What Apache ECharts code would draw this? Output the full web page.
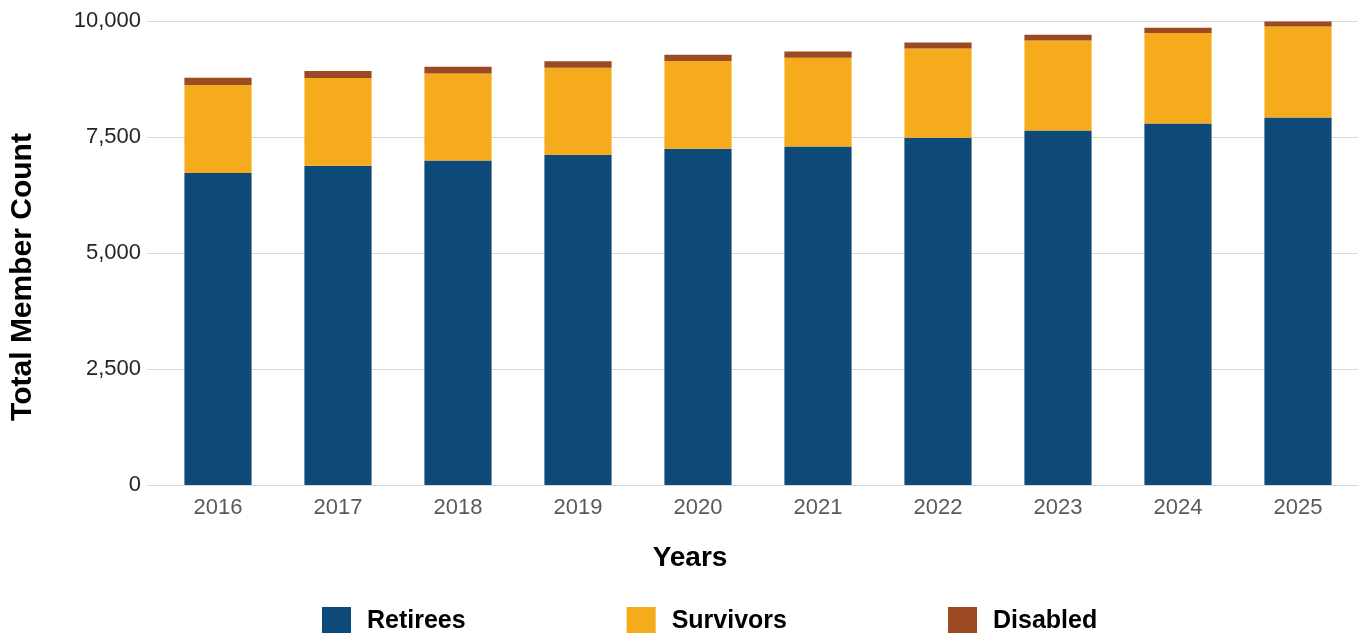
<!DOCTYPE html>
<html>
<head>
<meta charset="utf-8">
<script src="https://cdn.jsdelivr.net/npm/echarts@6/dist/echarts.min.js"></script>
<style>
  html, body { margin: 0; padding: 0; background: #fff; }
  #chart { width: 1364px; height: 633px; }
</style>
</head>
<body>
<div id="chart"></div>
<script>
const years = ["2016", "2017", "2018", "2019", "2020", "2021", "2022", "2023", "2024", "2025"];
const retirees = [6724, 6880, 6995, 7110, 7247, 7297, 7484, 7642, 7793, 7922];
const survivors = [1896, 1890, 1875, 1880, 1890, 1911, 1925, 1939, 1948, 1961];
const disabled = [157, 150, 145, 145, 136, 136, 129, 123, 114, 108];
const yTicks = [0, 2500, 5000, 7500, 10000];

const font = "'Liberation Sans', Arial, sans-serif";
const chart = echarts.init(document.getElementById("chart"));

const barSeries = (name, data, color) => ({
  name: name,
  type: "bar",
  stack: "total",
  data: data,
  barWidth: "56%",
  itemStyle: { color: color },
});

const option = {
  animation: false,
  textStyle: { fontFamily: font },
  grid: {
    left: 158,
    right: 6,
    top: 21,
    bottom: 148,
  },
  legend: {
    left: 317,
    top: 602,
    itemWidth: 29,
    itemHeight: 29,
    itemGap: 161,
    icon: "rect",
    textStyle: {
      fontSize: 25,
      fontWeight: "bold",
      color: "#000",
      fontFamily: font,
      padding: [0, 0, 0, 11],
    },
    data: ["Retirees", "Survivors", "Disabled"],
  },
  xAxis: {
    type: "category",
    data: years,
    axisLine: { lineStyle: { color: "#d9d9d9" } },
    axisTick: { show: false },
    axisLabel: { color: "#595959", fontSize: 22, margin: 12 },
  },
  yAxis: {
    type: "value",
    min: yTicks[0],
    max: yTicks[yTicks.length - 1],
    interval: 2500,
    axisLine: { show: false },
    axisTick: { show: true, length: 11, lineStyle: { color: "#d9d9d9" } },
    splitLine: { lineStyle: { color: "#d9d9d9" } },
    axisLabel: {
      color: "#262626",
      fontSize: 22,
      margin: 17,
      formatter: (v) => v.toLocaleString("en-US"),
    },
  },
  graphic: [
    {
      type: "text",
      x: 690,
      y: 558,
      style: {
        text: "Years",
        font: "bold 28px " + font,
        fill: "#000",
        align: "center",
        verticalAlign: "middle",
      },
    },
    {
      type: "text",
      x: 23,
      y: 277,
      rotation: Math.PI / 2,
      style: {
        text: "Total Member Count",
        font: "bold 30px " + font,
        fill: "#000",
        align: "center",
        verticalAlign: "middle",
      },
    },
  ],
  series: [
    barSeries("Retirees", retirees, "#0d4a7a"),
    barSeries("Survivors", survivors, "#f6ab1c"),
    barSeries("Disabled", disabled, "#9b4a22"),
  ],
};

chart.setOption(option);
</script>
</body>
</html>
